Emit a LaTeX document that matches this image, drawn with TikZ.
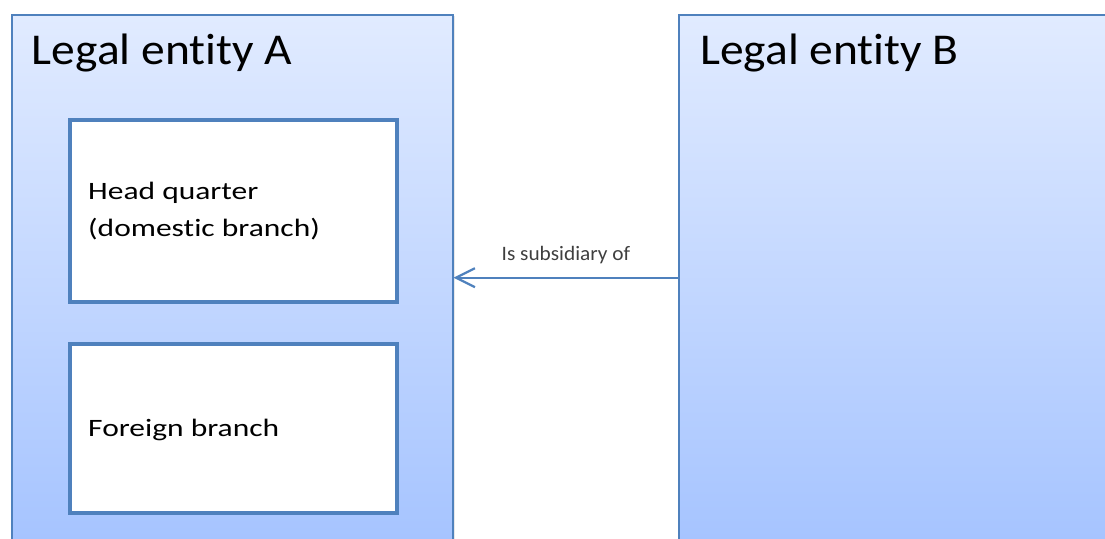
\documentclass[tikz,border=0pt]{standalone}
\usepackage{fontspec}
\newfontfamily\titlefont[FakeStretch=1.08,Ligatures=NoCommon]{Carlito}
\newfontfamily\boxfont[FakeStretch=1.26,Ligatures=NoCommon]{Carlito}
\newfontfamily\linkfont[FakeStretch=1.04,Ligatures=NoCommon]{Carlito}
\usetikzlibrary{%
	positioning,
	calc,
	arrows.meta,
	shadows
}
\definecolor{borderBlue}{HTML}{4F81BD}
\definecolor{entityTop}{HTML}{E1EBFF}
\definecolor{entityBottom}{HTML}{A6C4FF}
\definecolor{linkText}{HTML}{3F3F3F}

\begin{document}
\begin{tikzpicture}[x=1pt,y=-1pt,
		SEntity/.style={draw=borderBlue,line width=2pt,shape=rectangle,top color=entityTop,bottom color=entityBottom,minimum height=526pt,inner sep=0pt,anchor=north west,drop shadow={opacity=.18,shadow xshift=2pt,shadow yshift=-1pt}},
		SBranch/.style={draw=borderBlue,line width=4pt,shape=rectangle,fill=white,minimum width=327.5pt,inner sep=0pt,anchor=north west,drop shadow={opacity=.2,shadow xshift=1.5pt,shadow yshift=-1.5pt}},
		title/.style={font=\titlefont\fontsize{44}{53}\selectfont,inner sep=0pt,anchor=base west},
		branchtext/.style={font=\boxfont\fontsize{25}{37.4}\selectfont,align=left,inner sep=0pt},
		link/.style={draw=borderBlue,line width=2.2pt,-{Straight Barb[length=19pt,width=19pt]}}
	]
	\useasboundingbox (0,0) rectangle (1105,538);
	\clip (0,0) rectangle (1105,538);
	
		%Legal entity A
		\node(entA) [SEntity, minimum width=440.5pt] at (11,13.7) {};
		\node(titleA) [title, below right=50.6pt and 20.7pt of entA.north west, anchor=base west] {Legal entity A};
		
		%branches of A
		\node(HQ) [SBranch, minimum height=181.7pt] at (67.5,118.3) {};
		\node(HQ-text) [branchtext, below right=118.4pt and 20.5pt of HQ.north west, anchor=base west] {Head quarter\\(domestic branch)};
		\node(FB) [SBranch, minimum height=169.3pt] at (67.5,341.7) {};
		\node(FB-text) [branchtext, below right=95pt and 20.5pt of FB.north west, anchor=base west] {Foreign branch};
		
		%Legal entity B
		\node(entB) [SEntity, minimum width=440pt] at (678.3,13.7) {};
		\node(titleB) [title, below right=50.6pt and 21.7pt of entB.north west, anchor=base west] {Legal entity B};
		
		%relation
		\draw [link] (entB.west) to node [anchor=base,yshift=17.4pt,inner sep=0pt,text=linkText,font=\linkfont\fontsize{20.5}{24}\selectfont] {Is subsidiary of} (entA.east);
		
	\end{tikzpicture}
\end{document}
